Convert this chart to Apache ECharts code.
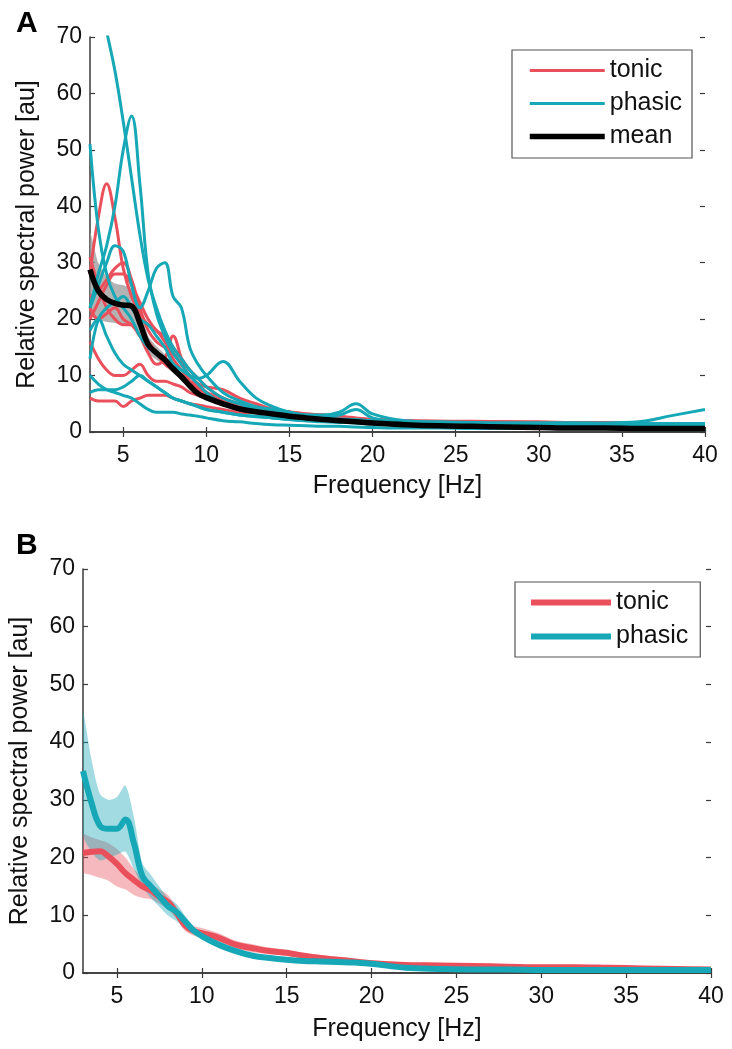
<!DOCTYPE html>
<html>
<head>
<meta charset="utf-8">
<script src="https://cdn.jsdelivr.net/npm/echarts@6/dist/echarts.min.js"></script>
<style>
html,body{margin:0;padding:0;background:#fff;}
#chart{width:732px;height:1049px;}
</style>
</head>
<body>
<div id="chart"></div>
<script>
// Frequency grid (Hz)
const freq = [3,3.5,4,4.5,5,5.5,6,6.5,7,7.5,8,8.5,9,9.5,10,11,12,13,14,15,16,17,18,19,20,22,24,26,28,30,32,34,36,38,40];
const xTicks = [5,10,15,20,25,30,35,40];

// Panel A: individual tonic subjects
const tonic1 = [28,38,44,38,29,24,21,19,18,16,13,11,9,7.5,6.5,5,4,3.5,3,2.8,2.5,2.4,2.2,2,1.8,1.6,1.5,1.5,1.4,1.4,1.3,1.3,1.2,1.2,1.2];
const tonic2 = [24,25,27,29,30,27,22,18,16,15,14,12,10,8.5,7,5.5,4.5,4,3.6,3.2,3,2.8,2.6,2.4,2.2,2,1.9,1.8,1.8,1.7,1.7,1.6,1.5,1.5,1.4];
const tonic3 = [22,20,21,22,20,19,17,14,12,13,17,13,9,8,7,6,5,4.5,4,3.5,3.2,3,2.8,2.5,2.2,2,1.9,1.9,1.8,1.8,1.7,1.7,1.6,1.5,1.5];
const tonic4 = [16,13,11,10,10,11,12,10,9,9,8.5,8,7,6.5,6,5,4,3.6,3.2,3,2.8,2.6,2.4,2.2,2,1.8,1.7,1.6,1.6,1.5,1.5,1.4,1.4,1.3,1.3];
const tonic5 = [6,5.5,5.5,5.5,4.5,5.5,6,6.5,6.5,6.5,6,5.5,5,4.8,4.5,4,3.5,3.4,3,2.8,2.6,2.5,2,1.8,1.6,1.5,1.4,1.4,1.3,1.3,1.2,1.2,1.1,1.1,1.0];
const tonic6 = [31,26,22,20,19,19,17,16,14,12,11,10,9,8.5,8,7.5,6,5,4,3.5,3,2.8,2.5,2.2,2,1.8,1.7,1.7,1.6,1.6,1.5,1.5,1.4,1.4,1.3];
const tonic7 = [20,23,26,28,28,26,23,20,18,17,15,13,11,9.5,8,6,5,4.5,4,3.6,3.2,3,2.7,2.4,2.1,1.9,1.8,1.7,1.7,1.6,1.6,1.5,1.5,1.4,1.4];

// Panel A: individual phasic subjects
const phasic1 = [85,78,71,64,55,45,35,27,22,18,15,13,11,9.5,8,6,5,4,3.5,3,2.7,2.5,2.3,2.2,2,1.8,1.7,1.6,1.5,1.5,1.4,1.4,1.3,1.3,1.3];
const phasic2 = [22,28,33,40,50,56,44,28,21,17,14,12,10,8.5,7,5,4,3.5,3,2.6,2.4,2.2,2,1.9,1.7,1.5,1.4,1.3,1.3,1.2,1.2,1.2,1.1,1.1,1.1];
const phasic3 = [51,36,28,24,22,20,17,15,14,13,12,11,10,9.5,10,12.5,9,6,4.5,3.5,3,3,3.5,5,3.2,2,1.8,1.7,1.6,1.6,1.6,1.5,1.5,1.5,1.5];
const phasic4 = [22,26,30,33,32,26,22,25,29,30,24,22,15,12,10,7,5.5,4.5,4,3.5,3,2.8,3,4,2.5,1.6,1.4,1.3,1.3,1.2,1.2,1.2,1.1,1.1,1.1];
const phasic5 = [13,20,22,23,24,22,20,19,17,15,12,10,8,7,6,5,4,3.5,3,2.6,2.3,2.1,2,1.8,1.5,1.2,1.1,1.1,1.0,1.0,1.0,1.0,1.0,1.0,1.0];
const phasic6 = [10,8.5,7.5,7,6.5,6,5,4,3.5,3.5,3.5,3.2,3,2.8,2.5,2,1.8,1.5,1.3,1.2,1.1,1,1,0.9,0.8,0.7,0.7,0.6,0.6,0.6,0.6,0.6,0.6,0.6,0.6];
const phasic7 = [7,7.5,7.5,7.5,8,9,10,9,8,7,6,5.5,5,4.5,4,3.5,3,2.7,2.5,2.2,2,1.8,1.7,1.6,1.4,1.3,1.2,1.2,1.2,1.2,1.2,1.2,1.2,1.2,1.2];
const phasic8 = [18,20,17,14,12,11,10,9,8,7,6,5.5,5,4.5,4,3.5,3,2.8,2.5,2.2,2,2,1.9,1.9,1.8,1.7,1.7,1.6,1.6,1.6,1.6,1.6,1.8,2.9,4.0];

// Panel A: grand mean and its band
const meanA = [28.8,25,23.5,22.8,22.5,22.3,19.3,15.5,14,12.8,11.2,9.8,8.2,6.8,6.1,5,4.1,3.6,3.2,2.8,2.5,2.2,2.0,1.8,1.6,1.3,1.1,1.0,0.9,0.8,0.7,0.7,0.6,0.6,0.6];
const meanAHi = [35.3,30,27.5,26.3,26,25.3,21.8,17,15.2,13.8,12,10.5,8.8,7.3,6.6,5.4,4.4,3.9,3.5,3.1,2.7,2.4,2.2,2.0,1.8,1.5,1.3,1.2,1.1,1.0,0.9,0.9,0.8,0.8,0.8];
const meanALo = [22.3,20,19.5,19.3,19,19.3,16.8,14,12.8,11.8,10.4,9.1,7.6,6.3,5.6,4.6,3.8,3.3,2.9,2.5,2.3,2.0,1.8,1.6,1.4,1.1,0.9,0.8,0.7,0.6,0.5,0.5,0.4,0.4,0.4];

// Panel B: group means with bands
const tonicB = [20.8,21,21.1,20.2,18.9,17.3,16.1,15,14.3,13.2,12.3,10.5,8.3,7.3,6.9,6.1,4.9,4.3,3.8,3.5,3,2.6,2.3,2.0,1.7,1.4,1.3,1.2,1.1,1.0,1.0,0.9,0.8,0.7,0.6];
const tonicBHi = [24,23.5,23,22.5,21.5,20,18,16.5,15.5,14.5,13.5,11.5,9.3,8.2,7.8,6.9,5.6,5,4.4,4,3.5,3.1,2.8,2.5,2.2,1.8,1.7,1.6,1.5,1.4,1.4,1.3,1.2,1.1,1.0];
const tonicBLo = [17.5,17,16.5,16,15,14.5,13.5,13,12.8,12,11,9.5,7.3,6.5,6,5.3,4.2,3.6,3.2,3,2.5,2.1,1.8,1.5,1.2,1.0,0.9,0.8,0.7,0.6,0.6,0.5,0.4,0.3,0.2];
const phasicB = [35,29.5,25.5,25,25,26.6,22.5,16.8,15,13.3,11.6,10.6,9,7.4,6.4,4.9,3.8,3.0,2.6,2.3,2.1,2,1.9,1.8,1.6,0.9,0.7,0.6,0.6,0.5,0.5,0.5,0.5,0.5,0.5];
const phasicBHi = [45,37,31,30,30.5,32.5,27,19,17,15,13,12,10,8,7,5.5,4.3,3.4,3,2.7,2.5,2.4,2.3,2.2,2,1.2,1,0.9,0.9,0.8,0.8,0.8,0.8,0.8,0.8];
const phasicBLo = [24,21,19.5,20,20.5,21,18,15,13,11.5,10,9,7.8,6.8,5.8,4.3,3.3,2.6,2.2,1.9,1.7,1.6,1.5,1.4,1.2,0.6,0.4,0.3,0.3,0.2,0.2,0.2,0.2,0.2,0.2];

const RED = '#e9505b';
const CYAN = '#16a8b6';
const FONT = 'Liberation Sans, Arial, Helvetica, sans-serif';

const pts = arr => arr.map((v, i) => [freq[i], v]);

function lineSeries(name, arr, color, width, ax, z) {
  return {
    type: 'line', name: name, data: pts(arr), xAxisIndex: ax, yAxisIndex: ax,
    symbol: 'none', smooth: 0.4,
    lineStyle: { color: color, width: width }, itemStyle: { color: color },
    z: z || 3
  };
}
function bandSeries(lo, hi, color, opacity, ax) {
  return {
    type: 'custom', xAxisIndex: ax, yAxisIndex: ax, clip: true, silent: true, z: 1,
    data: [[freq[0], lo[0]]],
    renderItem: function (params, api) {
      const top = freq.map((f, i) => api.coord([f, hi[i]]));
      const bot = freq.map((f, i) => api.coord([f, lo[i]])).reverse();
      return {
        type: 'polygon',
        shape: { points: top.concat(bot), smooth: 0.25 },
        style: { fill: color, opacity: opacity }
      };
    }
  };
}

const axisCol = '#3a3a3a';
function xAxes(grid, gap) {
  return [
    { type: 'value', gridIndex: grid, position: 'bottom', min: 3, max: 40,
      name: 'Frequency [Hz]', nameLocation: 'middle', nameGap: gap,
      nameTextStyle: { fontSize: 25, color: '#111', fontFamily: FONT },
      axisLine: { show: true, lineStyle: { color: axisCol, width: 1.5 } },
      axisTick: { show: true, inside: true, length: 5, customValues: xTicks, lineStyle: { color: axisCol, width: 1.2 } },
      axisLabel: { customValues: xTicks, fontSize: 23, color: '#111', margin: 12, fontFamily: FONT },
      splitLine: { show: false } },
    { type: 'value', gridIndex: grid, position: 'top', min: 3, max: 40,
      axisLine: { show: true, lineStyle: { color: axisCol, width: 1.5 } },
      axisTick: { show: true, inside: true, length: 5, customValues: xTicks, lineStyle: { color: axisCol, width: 1.2 } },
      axisLabel: { show: false }, splitLine: { show: false } }
  ];
}
function yAxes(grid) {
  return [
    { type: 'value', gridIndex: grid, position: 'left', min: 0, max: 70, interval: 10,
      name: 'Relative spectral power [au]', nameLocation: 'middle', nameGap: 50,
      nameTextStyle: { fontSize: 25, color: '#111', fontFamily: FONT },
      axisLine: { show: true, lineStyle: { color: axisCol, width: 1.5 } },
      axisTick: { show: true, inside: true, length: 5, lineStyle: { color: axisCol, width: 1.2 } },
      axisLabel: { fontSize: 23, color: '#111', margin: 8, fontFamily: FONT },
      splitLine: { show: false } },
    { type: 'value', gridIndex: grid, position: 'right', min: 0, max: 70, interval: 10,
      axisLine: { show: false },
      axisTick: { show: true, inside: true, length: 5, lineStyle: { color: axisCol, width: 1.2 } },
      axisLabel: { show: false }, splitLine: { show: false } }
  ];
}

const series = [];
// Panel A
series.push(bandSeries(meanALo, meanAHi, '#9a9a9a', 0.75, 0));
[tonic1, tonic2, tonic3, tonic4, tonic5, tonic6, tonic7].forEach(a => series.push(lineSeries('tonic', a, RED, 3, 0)));
[phasic1, phasic2, phasic3, phasic4, phasic5, phasic6, phasic7, phasic8].forEach(a => series.push(lineSeries('phasic', a, CYAN, 3, 0)));
series.push(lineSeries('mean', meanA, '#000000', 5.5, 0, 4));
// Panel B (axis index 2)
series.push(bandSeries(tonicBLo, tonicBHi, RED, 0.4, 2));
series.push(bandSeries(phasicBLo, phasicBHi, CYAN, 0.4, 2));
series.push(lineSeries('tonic', tonicB, RED, 6, 2));
series.push(lineSeries('phasic', phasicB, CYAN, 6, 2));

const legendText = { fontSize: 25, color: '#111', fontFamily: FONT };
const option = {
  animation: false,
  backgroundColor: '#ffffff',
  title: [
    { text: 'A', left: 11, top: 4, textStyle: { fontSize: 30, fontWeight: 'bold', color: '#000', fontFamily: FONT } },
    { text: 'B', left: 11, top: 526, textStyle: { fontSize: 30, fontWeight: 'bold', color: '#000', fontFamily: FONT } }
  ],
  grid: [
    { left: 90, top: 37, width: 615, height: 395 },
    { left: 81, top: 569, width: 630, height: 404 }
  ],
  xAxis: [...xAxes(0, 42), ...xAxes(1, 44)],
  yAxis: [...yAxes(0), ...yAxes(1)],
  legend: [
    { orient: 'vertical', left: 512, top: 50, itemWidth: 75, itemHeight: 25, itemGap: 8,
      padding: [8, 10, 9, 15], borderColor: '#555', borderWidth: 1.2, backgroundColor: '#fff',
      textStyle: legendText, selectedMode: false, itemStyle: { opacity: 0 },
      data: [ { name: 'tonic', lineStyle: { width: 3 } }, { name: 'phasic', lineStyle: { width: 3 } }, { name: 'mean', lineStyle: { width: 5.5 } } ] },
    { orient: 'vertical', left: 515, top: 582, itemWidth: 80, itemHeight: 25, itemGap: 9,
      padding: [8, 12, 8, 13], borderColor: '#555', borderWidth: 1.2, backgroundColor: '#fff',
      textStyle: legendText, selectedMode: false, itemStyle: { opacity: 0 },
      data: [ { name: 'tonic', lineStyle: { width: 6 } }, { name: 'phasic', lineStyle: { width: 6 } } ] }
  ],
  series: series
};

const chart = echarts.init(document.getElementById('chart'), null, { renderer: 'canvas' });
chart.setOption(option);
</script>
</body>
</html>
